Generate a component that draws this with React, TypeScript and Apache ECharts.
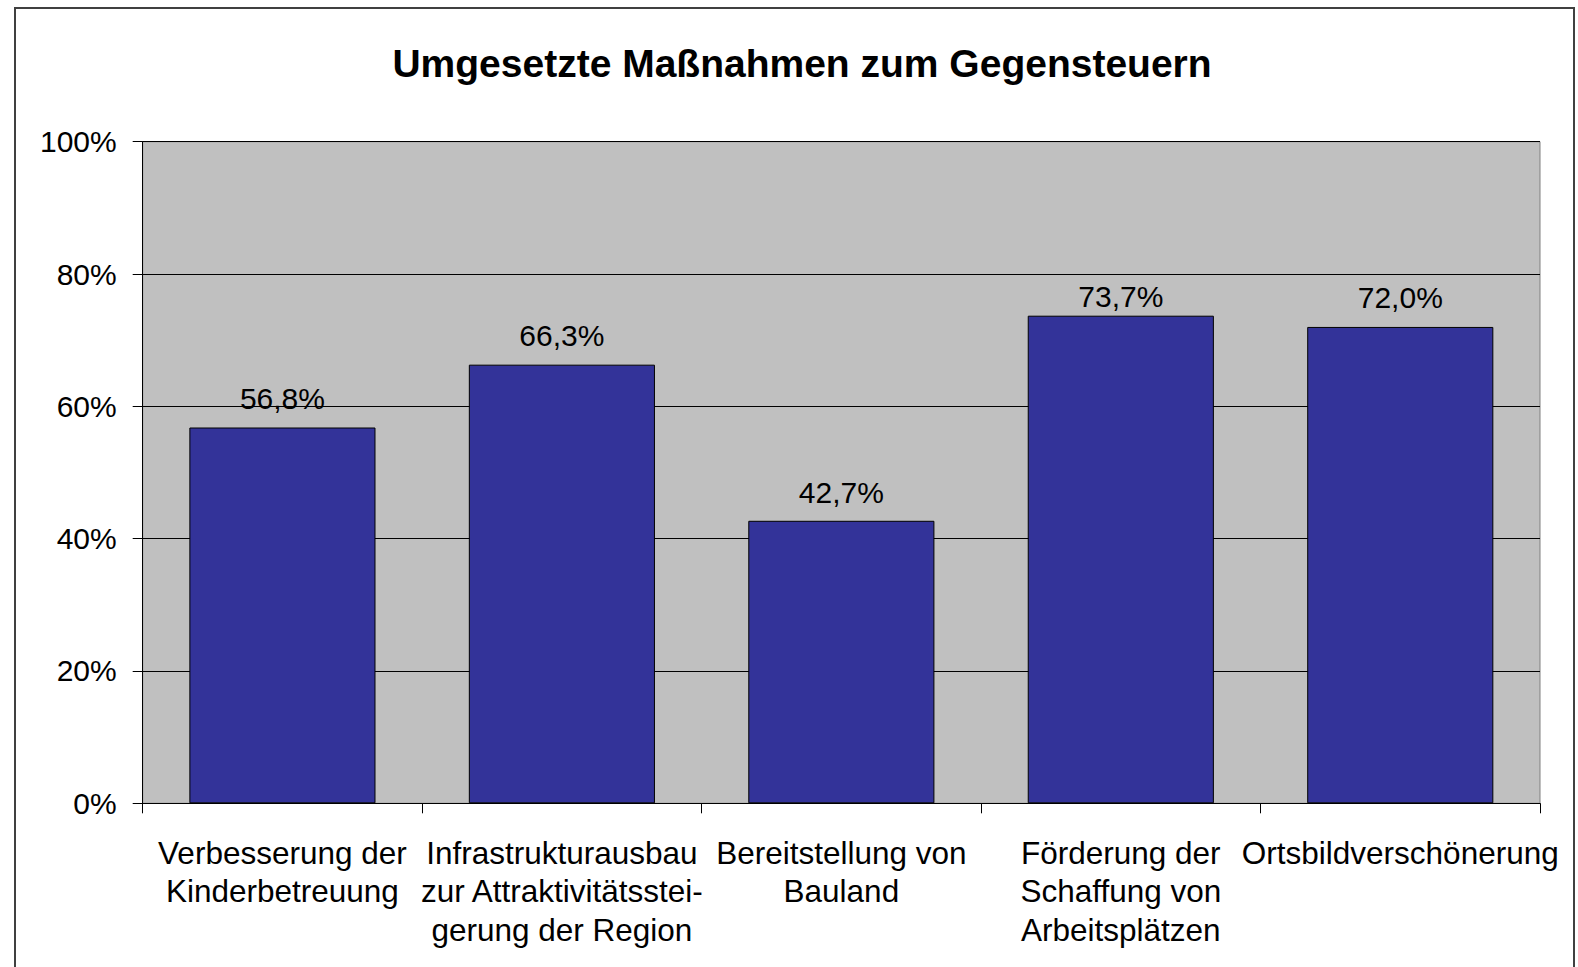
import React, { useEffect, useRef } from "react";
import * as echarts from "echarts";

const TITLE = "Umgesetzte Maßnahmen zum Gegensteuern";
const CATEGORIES = [
  "Verbesserung der\nKinderbetreuung",
  "Infrastrukturausbau\nzur Attraktivitätsstei-\ngerung der Region",
  "Bereitstellung von\nBauland",
  "Förderung der\nSchaffung von\nArbeitsplätzen",
  "Ortsbildverschönerung",
];
const VALUES = [56.8, 66.3, 42.7, 73.7, 72.0];
const Y_MIN = 0;
const Y_MAX = 100;
const Y_STEP = 20;

const FONT = "'Liberation Sans', Arial, sans-serif";
// label gap above each bar (style only)
const LABEL_GAPS = [14, 14, 13, 4, 14];

export default function App() {
  const ref = useRef<HTMLDivElement>(null);
  useEffect(() => {
    document.body.style.margin = "0";
    const chart = echarts.init(ref.current!, null, { renderer: "svg" });
    chart.setOption({
      animation: false,
      backgroundColor: "#ffffff",
      title: {
        text: TITLE,
        left: 797,
        top: 39,
        textAlign: "center",
        textStyle: { fontFamily: FONT, fontSize: 39, fontWeight: "bold", color: "#000" },
      },
      graphic: [
        {
          type: "rect",
          shape: { x: 15, y: 8, width: 1559, height: 1000 },
          style: { fill: "none", stroke: "#404040", lineWidth: 2 },
          silent: true,
          z: 100,
        },
      ],
      grid: {
        left: 142.7,
        top: 141.7,
        right: 38,
        bottom: 163.7,
        show: true,
        backgroundColor: "#C0C0C0",
        borderColor: "#808080",
        borderWidth: 1,
        containLabel: false,
      },
      xAxis: {
        type: "category",
        data: CATEGORIES,
        boundaryGap: true,
        axisLine: { show: true, lineStyle: { color: "#000", width: 1 } },
        axisTick: { show: true, length: 10, lineStyle: { color: "#000" } },
        axisLabel: {
          interval: 0,
          margin: 30,
          fontFamily: FONT,
          fontSize: 31.5,
          lineHeight: 38.5,
          color: "#000",
          align: "center",
        },
        splitLine: { show: false },
      },
      yAxis: {
        type: "value",
        min: Y_MIN,
        max: Y_MAX,
        interval: Y_STEP,
        axisLine: { show: true, lineStyle: { color: "#000", width: 1 } },
        axisTick: { show: true, length: 10, lineStyle: { color: "#000" } },
        axisLabel: {
          formatter: "{value}%",
          margin: 26,
          fontFamily: FONT,
          fontSize: 30,
          color: "#000",
        },
        splitLine: { show: true, lineStyle: { color: "#000", width: 1 } },
      },
      series: [
        {
          type: "bar",
          data: VALUES.map((v, i) => ({ value: v, label: { distance: LABEL_GAPS[i] } })),
          barCategoryGap: "33.4%",
          itemStyle: { color: "#333399", borderColor: "#000", borderWidth: 1 },
          label: {
            show: true,
            position: "top",
            distance: 14,
            fontFamily: FONT,
            fontSize: 30,
            color: "#000",
            formatter: (p: any) => p.value.toFixed(1).replace(".", ",") + "%",
          },
        },
      ],
    });
    return () => chart.dispose();
  }, []);
  return <div ref={ref} style={{ width: 1578, height: 967 }} />;
}
